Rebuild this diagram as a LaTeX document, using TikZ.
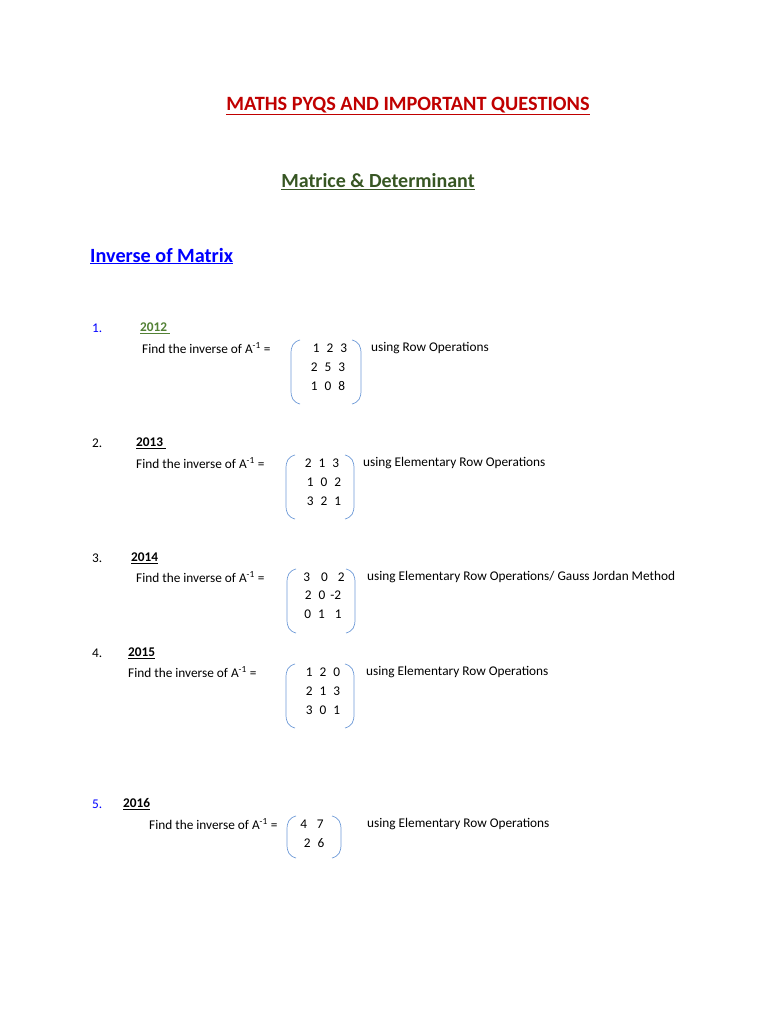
\documentclass[tikz,border=0pt]{standalone}
\usepackage{fontspec}
\setmainfont{Carlito}
\definecolor{tred}{HTML}{C00000}
\definecolor{tgreen}{HTML}{375623}
\definecolor{tblue}{HTML}{0000FF}
\definecolor{yg}{HTML}{538135}
\definecolor{br}{HTML}{6F9BD8}
\newcommand{\gp}{\hspace{7pt}}
\begin{document}
\begin{tikzpicture}[x=1pt,y=-1pt,
  txt/.style={anchor=west,inner sep=0pt,font=\fontsize{13.3}{15}\selectfont},
  row/.style={inner sep=0pt,font=\fontsize{13.3}{15}\selectfont},
  brk/.style={draw=br,line width=0.7pt}]
\useasboundingbox[fill=white] (0,0) rectangle (768,1024);
\node[inner sep=0pt,text=tred,font=\fontsize{20.3}{22}\selectfont\bfseries] (t1) at (408,106) {\underline{MATHS PYQS AND IMPORTANT QUESTIONS}};
\node[inner sep=0pt,text=tgreen,font=\fontsize{20}{22}\selectfont\bfseries] (t2) at (378,182) {\underline{Matrice \& Determinant}};
\node[inner sep=0pt,anchor=west,text=tblue,font=\fontsize{20.2}{22}\selectfont\bfseries] (t3) at (90,256) {\underline{Inverse of Matrix}};
\newcommand{\mybr}[4]{% xl, xr, top, bottom
 \draw[brk] (#1+9,#3) .. controls (#1+2,#3+2) and (#1,#3+6) .. (#1,#3+14) -- (#1,#4-14) .. controls (#1,#4-6) and (#1+2,#4-2) .. (#1+9,#4);
 \draw[brk] (#2-9,#3) .. controls (#2-2,#3+2) and (#2,#3+6) .. (#2,#3+14) -- (#2,#4-14) .. controls (#2,#4-6) and (#2-2,#4-2) .. (#2-9,#4);}
% 1
\node[txt,text=tblue] (n1) at (92,328) {1.};
\node[txt,text=yg,font=\fontsize{13.3}{15}\selectfont\bfseries] (y1) at (140,328) {\underline{2012\ }};
\node[txt] (f1) at (142,348) {Find the inverse of A\textsuperscript{-1} =};
\mybr{291}{361}{340}{404}
\node[row] (r11) at (330,348) {1\gp2\gp3};
\node[row] (r12) at (328,367) {2\gp5\gp3};
\node[row] (r13) at (328,386) {1\gp0\gp8};
\node[txt] (u1) at (371,348) {using Row Operations};
% 2
\node[txt] (n2) at (92,443) {2.};
\node[txt,font=\fontsize{13.3}{15}\selectfont\bfseries] (y2) at (136,443) {\underline{2013\ }};
\node[txt] (f2) at (136,463) {Find the inverse of A\textsuperscript{-1} =};
\mybr{286}{354}{455}{519}
\node[row] (r21) at (322,463) {2\gp1\gp3};
\node[row] (r22) at (324,482) {1\gp0\gp2};
\node[row] (r23) at (324,501) {3\gp2\gp1};
\node[txt] (u2) at (363,463) {using Elementary Row Operations};
% 3
\node[txt] (n3) at (92,558) {3.};
\node[txt,font=\fontsize{13.3}{15}\selectfont\bfseries] (y3) at (131,558) {\underline{2014}};
\node[txt] (f3) at (136,577) {Find the inverse of A\textsuperscript{-1} =};
\mybr{287}{355}{569}{633}
\node[row] (r31) at (324,577) {3\hspace{11pt}0\hspace{10pt}2};
\node[row] (r32) at (323,595) {2\gp0\hspace{5pt}-2};
\node[row] (r33) at (323,614) {0\gp1\hspace{10pt}1};
\node[txt] (u3) at (367,577) {using Elementary Row Operations/ Gauss Jordan Method};
% 4
\node[txt] (n4) at (92,653) {4.};
\node[txt,font=\fontsize{13.3}{15}\selectfont\bfseries] (y4) at (128,653) {\underline{2015}};
\node[txt] (f4) at (128,672) {Find the inverse of A\textsuperscript{-1} =};
\mybr{286}{354}{664}{728}
\node[row] (r41) at (323,672) {1\gp2\gp0};
\node[row] (r42) at (323,691) {2\gp1\gp3};
\node[row] (r43) at (323,710) {3\gp0\gp1};
\node[txt] (u4) at (366,672) {using Elementary Row Operations};
% 5
\node[txt,text=tblue] (n5) at (92,804) {5.};
\node[txt,font=\fontsize{13.3}{15}\selectfont\bfseries] (y5) at (123,804) {\underline{2016}};
\node[txt] (f5) at (149,824) {Find the inverse of A\textsuperscript{-1} =};
\mybr{287}{341}{816}{858}
\node[row] (r51) at (312,824) {4\hspace{10pt}7};
\node[row] (r52) at (314,843) {2\gp6};
\node[txt] (u5) at (367,824) {using Elementary Row Operations};
\end{tikzpicture}
\end{document}
